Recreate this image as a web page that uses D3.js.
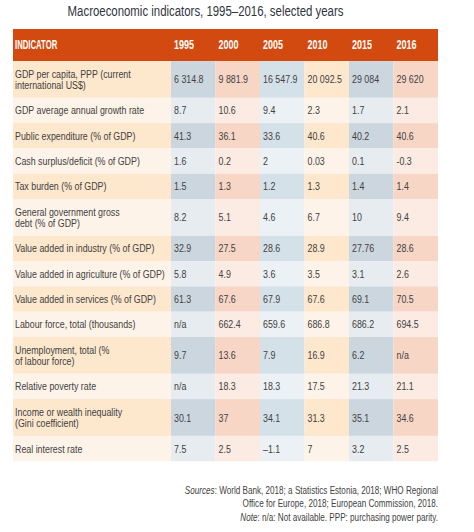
<!DOCTYPE html>
<html><head><meta charset="utf-8">
<script src="https://cdn.jsdelivr.net/npm/d3@7"></script>
<style>
html,body{margin:0;padding:0;background:#fff;}
svg{display:block;font-family:"Liberation Sans",Arial,sans-serif;}
</style></head>
<body>
<svg id="chart" width="474" height="532"></svg>
<script>
const title = "Macroeconomic indicators, 1995–2016, selected years";
const years = ["1995","2000","2005","2010","2015","2016"];
const indicators = [
  ["GDP per capita, PPP (current","international US$)"],
  ["GDP average annual growth rate"],
  ["Public expenditure (% of GDP)"],
  ["Cash surplus/deficit (% of GDP)"],
  ["Tax burden (% of GDP)"],
  ["General government gross","debt (% of GDP)"],
  ["Value added in industry (% of GDP)"],
  ["Value added in agriculture (% of GDP)"],
  ["Value added in services (% of GDP)"],
  ["Labour force, total (thousands)"],
  ["Unemployment, total (%","of labour force)"],
  ["Relative poverty rate"],
  ["Income or wealth inequality","(Gini coefficient)"],
  ["Real interest rate"]
];
const v1995 = ["6 314.8","8.7","41.3","1.6","1.5","8.2","32.9","5.8","61.3","n/a","9.7","n/a","30.1","7.5"];
const v2000 = ["9 881.9","10.6","36.1","0.2","1.3","5.1","27.5","4.9","67.6","662.4","13.6","18.3","37","2.5"];
const v2005 = ["16 547.9","9.4","33.6","2","1.2","4.6","28.6","3.6","67.9","659.6","7.9","18.3","34.1","–1.1"];
const v2010 = ["20 092.5","2.3","40.6","0.03","1.3","6.7","28.9","3.5","67.6","686.8","16.9","17.5","31.3","7"];
const v2015 = ["29 084","1.7","40.2","0.1","1.4","10","27.76","3.1","69.1","686.2","6.2","21.3","35.1","3.2"];
const v2016 = ["29 620","2.1","40.6","-0.3","1.4","9.4","28.6","2.6","70.5","694.5","n/a","21.1","34.6","2.5"];
const sourceLines = [
  [["Sources",true],[": World Bank, 2018; a Statistics Estonia, 2018; WHO Regional",false]],
  [["Office for Europe, 2018; European Commission, 2018.",false]],
  [["Note",true],[": n/a: Not available. PPP: purchasing power parity.",false]]
];

const series = [v1995,v2000,v2005,v2010,v2015,v2016];

// layout
const left = 13, right = 438, labelW = 158;
const headerTop = 29, headerH = 32;
const lineRowH = 25.3, extraLine = 11.5;
const SX = 0.77; // horizontal condensing of text
const textCol = "#424242";
const darkCols = ["#fde7cd","#ccd6de","#f7d6c6","#d5e1e9","#fde7cd","#ccd6de","#f7d6c6"];
const lightCols = ["#fef3e8","#e7ecf0","#fbebe3","#ebf1f5","#fef3e8","#e7ecf0","#fbebe3"];

const svg = d3.select("#chart");

function txt(parent, x, y, s, size, opt={}) {
  const t = parent.append("text")
    .attr("transform", `translate(${x},${y}) scale(${opt.sx||SX},1)`)
    .attr("dy","0.35em")
    .attr("font-size", size)
    .attr("fill", opt.fill || textCol)
    .attr("text-anchor", opt.anchor || "start");
  if (opt.bold) t.attr("font-weight","bold");
  if (s !== null) t.text(s);
  return t;
}

// title
txt(svg, 205.5, 11, title, 14, {anchor:"middle", sx:0.815, fill:"#2f3640"});

const x = d3.scaleBand().domain(years).range([left+labelW, right]);

// row geometry
const rowH = indicators.map(l => lineRowH + (l.length-1)*extraLine);
const rowY = [];
let acc = headerTop + headerH;
rowH.forEach(h => { rowY.push(acc); acc += h; });

// header
svg.append("rect").attr("x",left).attr("y",headerTop).attr("width",right-left).attr("height",headerH).attr("fill","#d24a10");
txt(svg, left+2, headerTop+headerH/2, "INDICATOR", 12.5, {bold:true, fill:"#fff", sx:0.62});
years.forEach(yr => txt(svg, x(yr)+3, headerTop+headerH/2, yr, 12.5, {bold:true, fill:"#fff", sx:0.72}));

// rows
indicators.forEach((lines,i)=>{
  const g = svg.append("g").attr("transform",`translate(0,${rowY[i]})`);
  const cols = i%2===0 ? darkCols : lightCols;
  const h = rowH[i];
  g.append("rect").attr("x",left).attr("y",0).attr("width",labelW).attr("height",h).attr("fill",cols[0]);
  years.forEach((yr,j)=>{
    g.append("rect").attr("x",x(yr)).attr("y",0).attr("width",x.bandwidth()).attr("height",h).attr("fill",cols[j+1]);
  });
  const n = lines.length;
  lines.forEach((ln,k)=>{
    txt(g, left+2, h/2 + (k-(n-1)/2)*extraLine, ln, 11.5);
  });
  years.forEach((yr,j)=>{
    txt(g, x(yr)+3, h/2, series[j][i], 11.5);
  });
});

// sources
const srcY = [490, 503, 517];
sourceLines.forEach((parts,k)=>{
  const t = txt(svg, right, srcY[k], null, 11, {anchor:"end", sx:0.74});
  parts.forEach(([s,it])=>{ t.append("tspan").attr("font-style", it?"italic":"normal").text(s); });
});
</script>
</body></html>
